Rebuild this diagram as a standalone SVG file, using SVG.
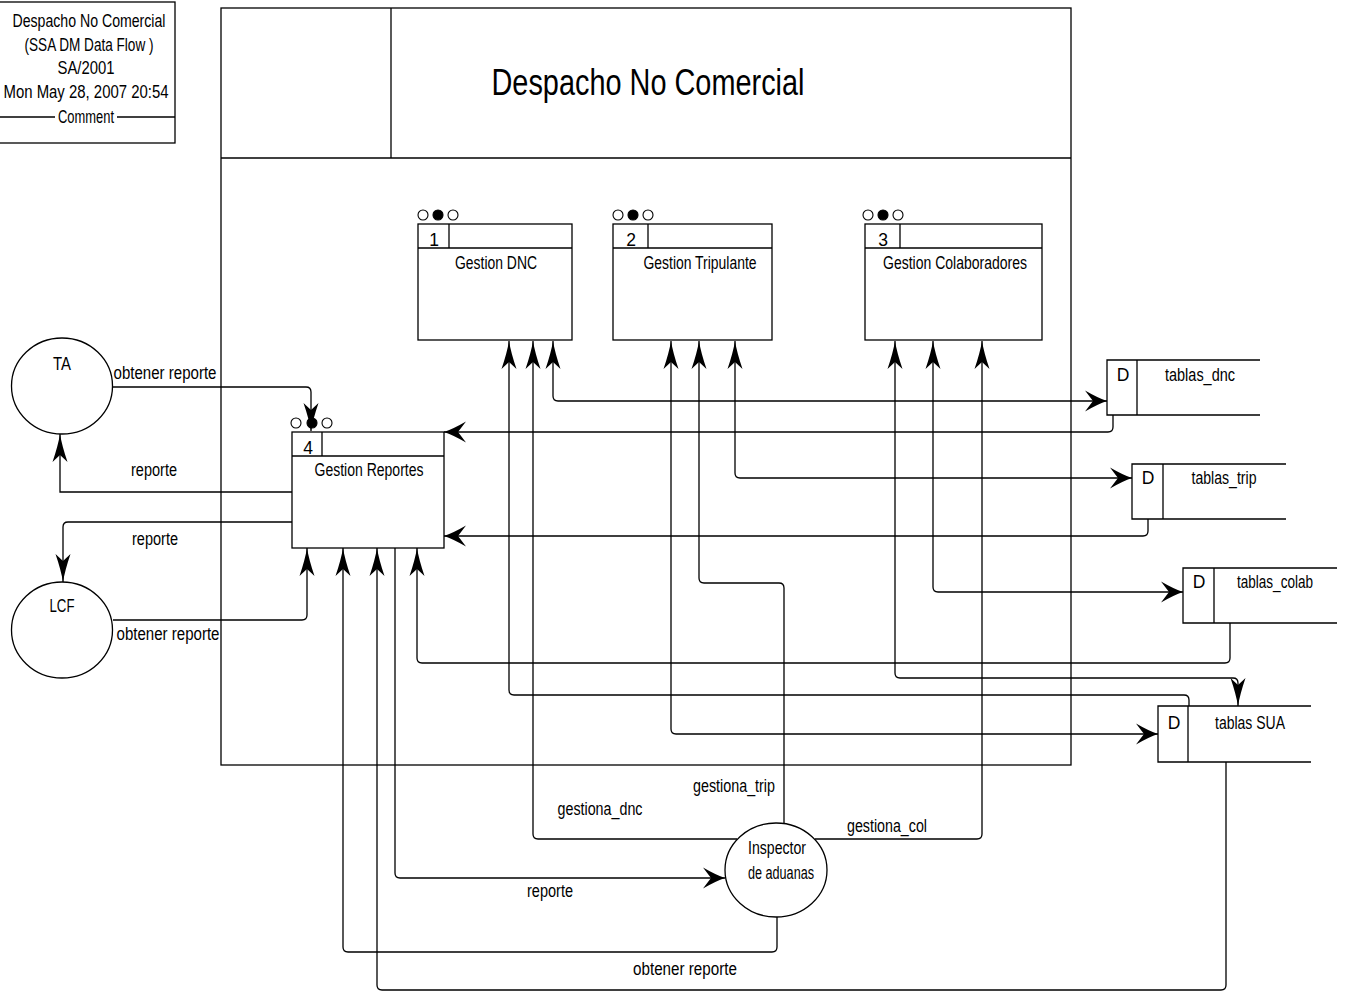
<svg xmlns="http://www.w3.org/2000/svg" width="1345" height="992" viewBox="0 0 1345 992">
<defs>
<style>
.ln{fill:none;stroke:#000;stroke-width:1.3}
.bx{fill:#fff;stroke:#000;stroke-width:1.3}
.t{font-family:"Liberation Sans Narrow","Arial Narrow","Liberation Sans",Arial,sans-serif;font-size:17.5px;fill:#000;text-anchor:middle}
.ttl{font-family:"Liberation Sans Narrow","Arial Narrow","Liberation Sans",Arial,sans-serif;font-size:36px;fill:#000;text-anchor:middle}
.co{fill:#fff;stroke:#000;stroke-width:1.1}
.cf{fill:#000;stroke:#000;stroke-width:1.1}
</style>
<marker id="av" markerUnits="userSpaceOnUse" markerWidth="32" markerHeight="20" viewBox="-30 -10 32 20" refX="0" refY="0" orient="auto-start-reverse">
<path d="M0,0 Q-12,-2 -28,-7.5 L-21,0 L-28,7.5 Q-12,2 0,0 Z" fill="#000"/>
</marker>
<marker id="ah" markerUnits="userSpaceOnUse" markerWidth="26" markerHeight="26" viewBox="-24 -13 26 26" refX="0" refY="0" orient="auto-start-reverse">
<path d="M0,0 Q-9,-3 -22,-10.5 L-14,0 L-22,10.5 Q-9,3 0,0 Z" fill="#000"/>
</marker>
</defs>
<rect width="1345" height="992" fill="#fff"/>

<g id="comment">
<rect class="bx" x="-1" y="2" width="176" height="141"/>
<text class="t" x="89" y="27" textLength="153" lengthAdjust="spacingAndGlyphs">Despacho No Comercial</text>
<text class="t" x="89" y="51" textLength="129" lengthAdjust="spacingAndGlyphs">(SSA DM Data Flow )</text>
<text class="t" x="86" y="74" textLength="57" lengthAdjust="spacingAndGlyphs">SA/2001</text>
<text class="t" x="86" y="98" textLength="165" lengthAdjust="spacingAndGlyphs">Mon May 28, 2007  20:54</text>
<line class="ln" x1="0" y1="117" x2="55" y2="117"/>
<line class="ln" x1="117" y1="117" x2="175" y2="117"/>
<text class="t" x="86" y="123" textLength="56" lengthAdjust="spacingAndGlyphs">Comment</text>
</g>

<g id="frame">
<rect class="ln" x="221" y="8" width="850" height="757"/>
<line class="ln" x1="221" y1="158" x2="1071" y2="158"/>
<line class="ln" x1="391" y1="8" x2="391" y2="158"/>
<text class="ttl" x="648" y="95" textLength="313" lengthAdjust="spacingAndGlyphs">Despacho No Comercial</text>
</g>

<g id="connectors">
<path class="ln" d="M113,387 H306 Q311,387 311,392 V431" marker-end="url(#av)"/>
<path class="ln" d="M292,492 H60 V434" marker-end="url(#av)"/>
<path class="ln" d="M292,522 H68 Q63,522 63,527 V582" marker-end="url(#av)"/>
<path class="ln" d="M113,620 H302 Q307,620 307,615 V548" marker-end="url(#av)"/>
<path class="ln" d="M777,917 V947 Q777,952 772,952 H348 Q343,952 343,947 V548" marker-end="url(#av)"/>
<path class="ln" d="M1226,762 V985 Q1226,990 1221,990 H382 Q377,990 377,985 V548" marker-end="url(#av)"/>
<path class="ln" d="M395,548 V873 Q395,878 400,878 H725" marker-end="url(#ah)"/>
<path class="ln" d="M1230,623 V658 Q1230,663 1225,663 H422 Q417,663 417,658 V548" marker-end="url(#av)"/>
<path class="ln" d="M1113,415 V427 Q1113,432 1108,432 H444" marker-end="url(#ah)"/>
<path class="ln" d="M1148,519 V531 Q1148,536 1143,536 H444" marker-end="url(#ah)"/>
<path class="ln" d="M553,341 V396 Q553,401 558,401 H1107" marker-start="url(#av)" marker-end="url(#ah)"/>
<path class="ln" d="M737,839 H538 Q533,839 533,834 V341" marker-end="url(#av)"/>
<path class="ln" d="M1189,706 V700 Q1189,695 1184,695 H514 Q509,695 509,690 V341" marker-end="url(#av)"/>
<path class="ln" d="M671,341 V729 Q671,734 676,734 H1158" marker-start="url(#av)" marker-end="url(#ah)"/>
<path class="ln" d="M784,824 V588 Q784,583 779,583 H704 Q699,583 699,578 V341" marker-end="url(#av)"/>
<path class="ln" d="M735,341 V473 Q735,478 740,478 H1132" marker-start="url(#av)" marker-end="url(#ah)"/>
<path class="ln" d="M895,341 V673 Q895,678 900,678 H1233 Q1238,678 1238,683 V706" marker-start="url(#av)" marker-end="url(#av)"/>
<path class="ln" d="M933,341 V587 Q933,592 938,592 H1183" marker-start="url(#av)" marker-end="url(#ah)"/>
<path class="ln" d="M815,839 H977 Q982,839 982,834 V341" marker-end="url(#av)"/>
<text class="t" x="165" y="379" textLength="103" lengthAdjust="spacingAndGlyphs">obtener  reporte</text>
<text class="t" x="154" y="476" textLength="46" lengthAdjust="spacingAndGlyphs">reporte</text>
<text class="t" x="155" y="545" textLength="46" lengthAdjust="spacingAndGlyphs">reporte</text>
<text class="t" x="168" y="640" textLength="103" lengthAdjust="spacingAndGlyphs">obtener  reporte</text>
<text class="t" x="734" y="792" textLength="82" lengthAdjust="spacingAndGlyphs">gestiona_trip</text>
<text class="t" x="600" y="815" textLength="85" lengthAdjust="spacingAndGlyphs">gestiona_dnc</text>
<text class="t" x="887" y="832" textLength="80" lengthAdjust="spacingAndGlyphs">gestiona_col</text>
<text class="t" x="550" y="897" textLength="46" lengthAdjust="spacingAndGlyphs">reporte</text>
<text class="t" x="685" y="975" textLength="104" lengthAdjust="spacingAndGlyphs">obtener  reporte</text>
</g>

<g id="p1">
<circle class="co" cx="423" cy="215" r="5"/>
<circle class="cf" cx="438" cy="215" r="5"/>
<circle class="co" cx="453" cy="215" r="5"/>
<rect class="bx" x="418" y="224" width="154" height="116"/>
<line class="ln" x1="418" y1="248" x2="572" y2="248"/>
<line class="ln" x1="449" y1="224" x2="449" y2="248"/>
<text class="t" x="434" y="246">1</text>
<text class="t" x="496" y="269" textLength="82" lengthAdjust="spacingAndGlyphs">Gestion DNC</text>
</g>

<g id="p2">
<circle class="co" cx="618" cy="215" r="5"/>
<circle class="cf" cx="633" cy="215" r="5"/>
<circle class="co" cx="648" cy="215" r="5"/>
<rect class="bx" x="613" y="224" width="159" height="116"/>
<line class="ln" x1="613" y1="248" x2="772" y2="248"/>
<line class="ln" x1="648" y1="224" x2="648" y2="248"/>
<text class="t" x="631" y="246">2</text>
<text class="t" x="700" y="269" textLength="113" lengthAdjust="spacingAndGlyphs">Gestion Tripulante</text>
</g>

<g id="p3">
<circle class="co" cx="868" cy="215" r="5"/>
<circle class="cf" cx="883" cy="215" r="5"/>
<circle class="co" cx="898" cy="215" r="5"/>
<rect class="bx" x="865" y="224" width="177" height="116"/>
<line class="ln" x1="865" y1="248" x2="1042" y2="248"/>
<line class="ln" x1="900" y1="224" x2="900" y2="248"/>
<text class="t" x="883" y="246">3</text>
<text class="t" x="955" y="269" textLength="144" lengthAdjust="spacingAndGlyphs">Gestion Colaboradores</text>
</g>

<g id="p4">
<circle class="co" cx="296" cy="423" r="5"/>
<circle class="cf" cx="312" cy="423" r="5"/>
<circle class="co" cx="327" cy="423" r="5"/>
<rect class="bx" x="292" y="432" width="152" height="116"/>
<line class="ln" x1="292" y1="456" x2="444" y2="456"/>
<line class="ln" x1="322" y1="432" x2="322" y2="456"/>
<text class="t" x="308" y="454">4</text>
<text class="t" x="369" y="476" textLength="109" lengthAdjust="spacingAndGlyphs">Gestion Reportes</text>
</g>

<g id="ta">
<ellipse class="bx" cx="62" cy="386" rx="50.5" ry="48"/>
<text class="t" x="62" y="370" textLength="18" lengthAdjust="spacingAndGlyphs">TA</text>
</g>
<g id="lcf">
<ellipse class="bx" cx="62" cy="630" rx="50.5" ry="48"/>
<text class="t" x="62" y="612" textLength="25" lengthAdjust="spacingAndGlyphs">LCF</text>
</g>
<g id="inspector">
<ellipse class="bx" cx="776" cy="870" rx="51" ry="47"/>
<text class="t" x="777" y="854" textLength="58" lengthAdjust="spacingAndGlyphs">Inspector</text>
<text class="t" x="781" y="879" textLength="66" lengthAdjust="spacingAndGlyphs">de aduanas</text>
</g>

<g id="ds_dnc">
<path class="ln" d="M1260,360 H1107 V415 H1260 M1137,360 V415"/>
<text class="t" x="1123" y="381">D</text>
<text class="t" x="1200" y="381" textLength="70" lengthAdjust="spacingAndGlyphs">tablas_dnc</text>
</g>
<g id="ds_trip">
<path class="ln" d="M1286,464 H1132 V519 H1286 M1163,464 V519"/>
<text class="t" x="1148" y="484">D</text>
<text class="t" x="1224" y="484" textLength="65" lengthAdjust="spacingAndGlyphs">tablas_trip</text>
</g>
<g id="ds_colab">
<path class="ln" d="M1337,568 H1183 V623 H1337 M1214,568 V623"/>
<text class="t" x="1199" y="588">D</text>
<text class="t" x="1275" y="588" textLength="76" lengthAdjust="spacingAndGlyphs">tablas_colab</text>
</g>
<g id="ds_sua">
<path class="ln" d="M1311,706 H1158 V762 H1311 M1188,706 V762"/>
<text class="t" x="1174" y="729">D</text>
<text class="t" x="1250" y="729" textLength="70" lengthAdjust="spacingAndGlyphs">tablas SUA</text>
</g>
</svg>
